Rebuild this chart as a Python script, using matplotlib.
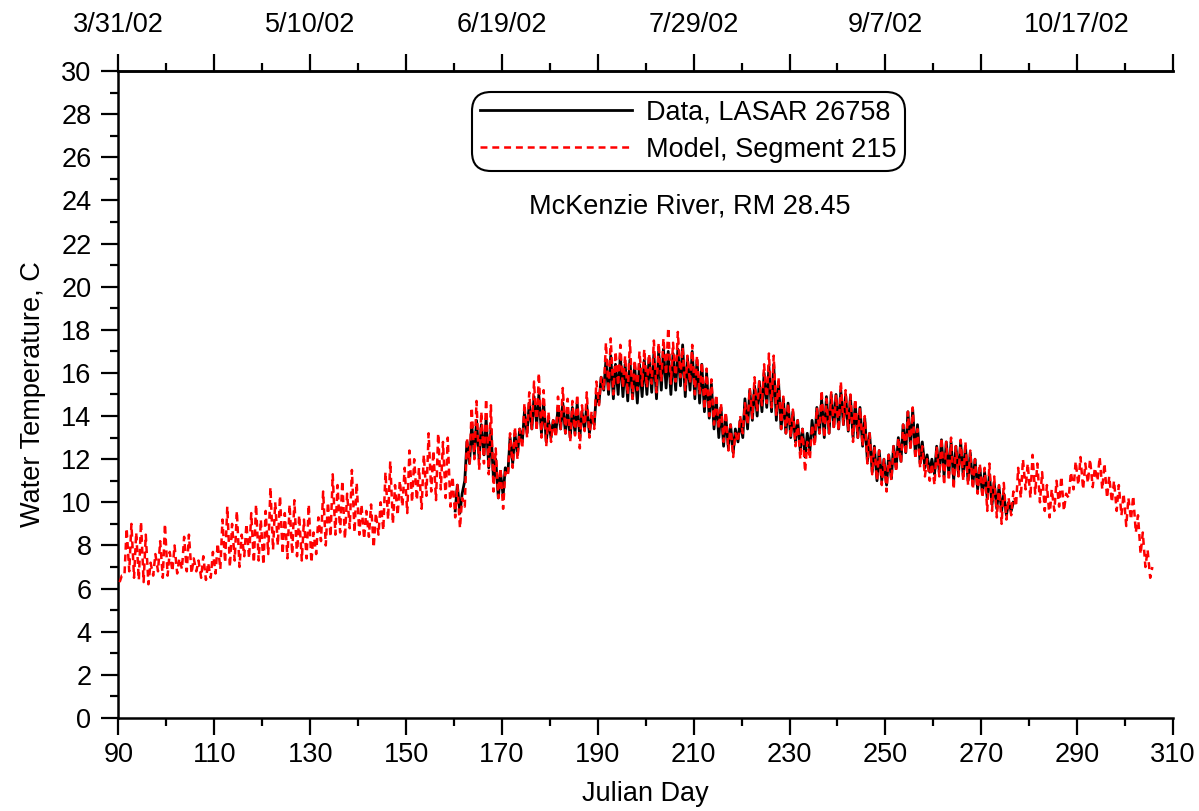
import numpy as np
import matplotlib
matplotlib.use("Agg")
import matplotlib.pyplot as plt
from matplotlib.ticker import FixedLocator, FixedFormatter, MultipleLocator

plt.rcParams['font.family'] = ['Liberation Sans', 'DejaVu Sans']
plt.rcParams['lines.scale_dashes'] = False

# ---------------- data (daily min / max) ----------------
model_start_day = 90
model_min = [
    6.3, 6.6, 6.8, 6.5, 6.4, 6.3, 6.2, 6.6, 6.8, 6.5,      # 90-99
    6.6, 6.8, 6.7, 6.9, 6.8, 6.7, 6.8, 6.5, 6.4, 6.5,      # 100-109
    6.7, 6.9, 7.2, 7.0, 7.3, 7.0, 7.5, 7.4, 7.2, 7.3,      # 110-119
    7.1, 7.6, 7.8, 8.0, 7.6, 7.4, 7.6, 7.5, 7.3, 7.4,      # 120-129
    7.2, 7.6, 8.2, 8.0, 8.4, 8.5, 8.6, 8.3, 8.8, 8.6,      # 130-139
    8.5, 8.3, 8.4, 7.9, 8.5, 8.7, 9.2, 9.0, 9.4, 9.8,      # 140-149
    9.5, 10.0, 10.1, 9.7, 10.3, 10.5, 10.1, 10.6, 10.2, 9.8,  # 150-159
    9.3, 8.8, 9.8, 11.8, 12.0, 11.5, 11.8, 11.3, 10.5, 10.2,  # 160-169
    9.7, 11.2, 11.6, 12.0, 12.5, 13.0, 13.4, 13.3, 13.0, 12.6,  # 170-179
    12.8, 13.0, 13.4, 13.2, 12.8, 13.1, 12.5, 13.3, 13.0, 13.4,  # 180-189
    14.5, 15.2, 15.1, 15.0, 15.4, 15.3, 15.0, 14.8, 15.2, 15.4,  # 190-199
    15.3, 15.5, 15.1, 15.6, 15.9, 15.5, 15.6, 15.8, 15.2, 15.5,  # 200-209
    15.0, 15.0, 14.3, 14.0, 13.6, 13.4, 12.8, 12.4, 12.1, 12.8,  # 210-219
    13.2, 13.6, 13.9, 14.2, 14.5, 14.6, 14.4, 14.0, 13.4, 13.2,  # 220-229
    13.0, 12.6, 12.0, 11.4, 12.0, 12.6, 13.2, 13.0, 13.2, 13.4,  # 230-239
    13.3, 13.6, 13.3, 12.8, 13.0, 12.6, 11.8, 11.3, 11.0, 10.8,  # 240-249
    10.5, 11.0, 11.4, 11.8, 12.2, 12.4, 12.0, 11.6, 11.2, 11.0,  # 250-259
    10.8, 11.2, 10.8, 11.0, 10.6, 11.2, 11.0, 10.8, 10.6, 10.4,  # 260-269
    10.2, 9.6, 9.6, 9.3, 9.0, 9.2, 9.4, 9.8, 10.2, 10.6,      # 270-279
    10.2, 10.4, 10.0, 9.6, 9.3, 9.6, 9.8, 9.6, 10.2, 10.6,    # 280-289
    10.8, 10.6, 10.9, 10.7, 11.0, 10.6, 10.2, 10.0, 9.6, 9.4,  # 290-299
    8.9, 9.2, 8.6, 7.6, 7.0, 6.5,                             # 300-305
]
model_max = [
    6.6, 8.8, 9.0, 8.6, 9.1, 8.5, 7.2, 7.6, 8.2, 9.0,      # 90-99
    7.7, 8.0, 7.4, 8.4, 8.5, 7.4, 7.3, 7.5, 7.2, 7.7,      # 100-109
    8.1, 9.2, 9.8, 9.0, 9.6, 8.5, 9.0, 9.5, 9.9, 9.2,      # 110-119
    9.6, 10.7, 10.0, 10.3, 9.5, 9.9, 10.1, 9.4, 9.2, 9.9,  # 120-129
    8.6, 9.3, 10.5, 10.0, 11.3, 10.8, 11.0, 10.4, 11.5, 10.9,  # 130-139
    9.9, 9.6, 9.9, 9.5, 10.0, 11.4, 11.9, 10.8, 11.0, 11.6,  # 140-149
    12.4, 12.0, 11.6, 12.2, 13.2, 12.4, 13.2, 12.8, 13.0, 11.2,  # 150-159
    10.8, 10.2, 13.0, 14.4, 14.7, 14.2, 14.8, 14.5, 12.5, 11.6,  # 160-169
    11.4, 13.2, 13.5, 13.4, 14.6, 15.1, 15.6, 16.0, 15.2, 14.2,  # 170-179
    13.8, 14.9, 15.3, 14.8, 14.7, 15.0, 14.5, 15.1, 14.2, 15.6,  # 180-189
    15.8, 17.4, 17.6, 17.0, 17.3, 16.8, 17.5, 16.6, 17.0, 17.1,  # 190-199
    16.9, 17.5, 17.4, 17.6, 18.1, 17.4, 17.9, 17.2, 16.8, 17.3,  # 200-209
    16.8, 16.5, 16.2, 15.7, 15.0, 14.6, 14.2, 13.6, 13.2, 14.0,  # 210-219
    14.6, 15.3, 15.8, 15.6, 16.4, 16.9, 16.8, 15.8, 14.9, 14.6,  # 220-229
    14.3, 13.8, 13.4, 12.8, 13.6, 14.4, 15.2, 14.8, 15.1, 15.0,  # 230-239
    15.6, 15.2, 15.0, 14.8, 14.4, 14.0, 13.2, 12.6, 12.4, 12.0,  # 240-249
    12.2, 12.6, 13.0, 13.6, 14.2, 14.4, 13.4, 12.6, 12.0, 11.8,  # 250-259
    12.6, 13.0, 12.8, 13.0, 12.6, 12.9, 12.8, 12.4, 12.0, 11.8,  # 260-269
    11.6, 11.8, 11.2, 10.8, 10.9, 10.2, 10.5, 11.6, 12.0, 11.8,  # 270-279
    12.2, 11.8, 11.4, 10.8, 10.6, 11.0, 11.2, 10.4, 11.4, 11.9,  # 280-289
    12.1, 11.8, 12.0, 11.6, 12.1, 11.8, 11.2, 11.0, 10.8, 10.4,  # 290-299
    10.2, 10.3, 9.4, 8.6, 7.8, 7.0,                           # 300-305
]

data_start_day = 160
data_min = [
    9.6, 9.5, 11.0, 11.8, 12.2, 12.0, 12.2, 11.6, 11.0, 10.2,  # 160-169
    10.3, 11.4, 11.8, 12.2, 12.8, 13.2, 13.4, 13.6, 13.2, 12.8,  # 170-179
    13.0, 13.2, 13.4, 13.2, 13.0, 13.2, 13.0, 13.4, 13.2, 13.6,  # 180-189
    14.6, 15.2, 15.0, 14.8, 15.0, 14.9, 14.7, 14.8, 14.6, 14.9,  # 190-199
    15.0, 15.1, 14.8, 15.2, 15.3, 15.0, 15.2, 15.4, 14.9, 15.2,  # 200-209
    14.8, 14.6, 14.2, 13.9, 13.4, 13.0, 12.6, 12.5, 12.3, 12.8,  # 210-219
    13.0, 13.4, 13.8, 14.0, 14.2, 14.4, 14.2, 13.8, 13.4, 13.2,  # 220-229
    13.0, 12.8, 12.4, 12.1, 12.4, 12.8, 13.2, 13.0, 13.2, 13.5,  # 230-239
    13.4, 13.6, 13.3, 13.0, 13.0, 12.6, 11.9, 11.4, 11.0, 11.0,  # 240-249
    10.8, 11.1, 11.6, 11.9, 12.3, 12.6, 12.2, 11.8, 11.6, 11.4,  # 250-259
    11.3, 11.4, 11.2, 11.3, 11.0, 11.3, 11.2, 11.0, 10.8, 10.6,  # 260-269
    10.4, 10.2, 9.9, 9.7, 9.6, 9.4, 9.6,                       # 270-276
]
data_max = [
    10.8, 10.4, 12.8, 13.6, 13.8, 13.6, 13.9, 13.4, 12.0, 11.4,  # 160-169
    11.6, 13.0, 13.2, 13.4, 14.2, 14.6, 14.9, 15.0, 14.6, 13.8,  # 170-179
    13.8, 14.4, 14.6, 14.3, 14.4, 14.6, 14.2, 14.5, 14.0, 15.0,  # 180-189
    15.8, 16.6, 16.8, 16.4, 16.8, 16.4, 16.6, 16.3, 16.4, 16.6,  # 190-199
    16.7, 16.9, 17.0, 17.1, 17.0, 16.9, 17.1, 17.3, 16.7, 17.0,  # 200-209
    16.6, 16.4, 16.0, 15.5, 14.8, 14.4, 14.0, 13.6, 13.4, 13.8,  # 210-219
    14.8, 15.2, 15.4, 15.6, 16.0, 16.3, 16.4, 15.6, 14.8, 14.6,  # 220-229
    14.2, 13.8, 13.4, 13.2, 13.8, 14.4, 14.8, 14.9, 15.0, 15.0,  # 230-239
    15.2, 15.0, 14.9, 14.6, 14.4, 13.9, 13.2, 12.6, 12.4, 12.0,  # 240-249
    12.2, 12.6, 13.0, 13.6, 14.2, 14.3, 13.6, 12.8, 12.2, 12.0,  # 250-259
    12.6, 12.9, 12.8, 12.8, 12.6, 12.8, 12.6, 12.3, 12.0, 11.6,  # 260-269
    11.4, 11.3, 10.9, 10.7, 10.4, 10.0, 10.0,                  # 270-276
]

x_ticks = list(range(90, 311, 20))
top_tick_days = [90, 130, 170, 210, 250, 290]
top_tick_labels = ['3/31/02', '5/10/02', '6/19/02', '7/29/02', '9/7/02', '10/17/02']


def diurnal(start, mins, maxs):
    """Alternate daily minimum (early morning) and maximum (afternoon)."""
    t, v = [], []
    for i, (lo, hi) in enumerate(zip(mins, maxs)):
        d = start + i
        t += [d + 0.25, d + 0.70]
        v += [lo, hi]
    return np.array(t), np.array(v)


mt, mv = diurnal(model_start_day, model_min, model_max)
dt, dv = diurnal(data_start_day, data_min, data_max)

# ---------------- figure ----------------
fig = plt.figure(figsize=(11.99, 8.11), dpi=100)
ax = fig.add_axes([0.0988, 0.1147, 0.8795, 0.7978])

ax.plot(dt, dv, color='black', lw=2.0, label='Data, LASAR 26758', zorder=3)
ax.plot(mt, mv, color='red', lw=1.8, dashes=(5, 3.5), label='Model, Segment 215', zorder=4)

ax.set_xlim(90, 310)
ax.set_ylim(0, 30)
ax.xaxis.set_major_locator(FixedLocator(x_ticks))
ax.xaxis.set_minor_locator(FixedLocator([d + 10 for d in x_ticks[:-1]]))
ax.yaxis.set_major_locator(MultipleLocator(2))
ax.yaxis.set_minor_locator(MultipleLocator(1))

fs = 19.5
ax.tick_params(axis='both', which='major', direction='out', length=12.5, width=1.6,
               labelsize=fs, pad=5)
ax.tick_params(axis='both', which='minor', direction='out', length=6, width=1.6)
ax.tick_params(axis='y', which='major', pad=7)

for s in ['left', 'bottom', 'top']:
    ax.spines[s].set_linewidth(1.8)
ax.spines['right'].set_visible(False)

ax.set_xlabel('Julian Day', fontsize=fs, labelpad=9)
ax.set_ylabel('Water Temperature, C', fontsize=fs, labelpad=11)

# top date axis
top = ax.secondary_xaxis('top')
top.xaxis.set_major_locator(FixedLocator(x_ticks))
top.xaxis.set_major_formatter(FixedFormatter(
    [top_tick_labels[top_tick_days.index(d)] if d in top_tick_days else ''
     for d in x_ticks]))
top.xaxis.set_minor_locator(FixedLocator([d + 10 for d in x_ticks[:-1]]))
top.tick_params(which='major', direction='out', length=12.5, width=1.6, labelsize=fs, pad=11)
top.tick_params(which='minor', direction='out', length=6, width=1.6)
top.spines['top'].set_linewidth(1.8)

leg = ax.legend(loc='upper left', bbox_to_anchor=(0.335, 0.968), fontsize=fs,
                handlelength=5.6, handletextpad=0.55, borderpad=0.3,
                labelspacing=0.4, frameon=True, fancybox=True,
                edgecolor='black', framealpha=1, borderaxespad=0)
leg.get_frame().set_linewidth(1.5)
leg.get_frame().set_boxstyle('round,pad=0,rounding_size=0.7')

ax.text(0.542, 0.790, 'McKenzie River, RM 28.45', transform=ax.transAxes,
        ha='center', va='center', fontsize=fs)

fig.savefig('out.png', dpi=100)
